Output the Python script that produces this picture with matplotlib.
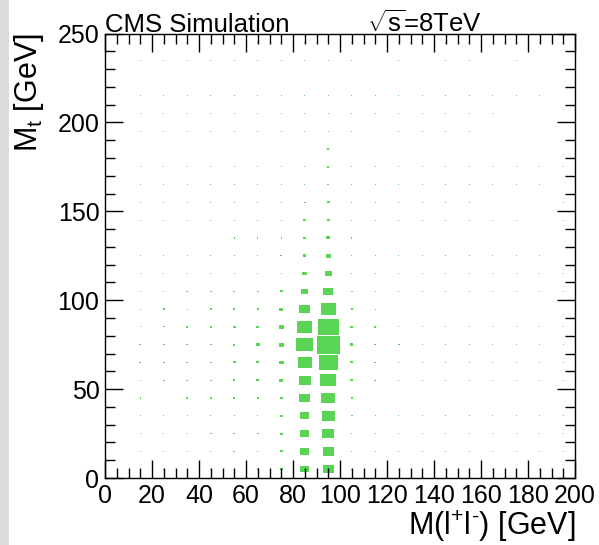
import numpy as np
import matplotlib
matplotlib.use("Agg")
import matplotlib.pyplot as plt
from matplotlib.patches import Rectangle
from matplotlib.collections import PatchCollection
from matplotlib.ticker import MultipleLocator

plt.rcParams['font.family'] = ['Liberation Sans', 'DejaVu Sans']
plt.rcParams['mathtext.fontset'] = 'custom'
plt.rcParams['mathtext.rm'] = 'Liberation Sans'
plt.rcParams['mathtext.it'] = 'Liberation Sans:italic'
plt.rcParams['mathtext.default'] = 'regular'

# bin centres (GeV)
mll_centers = [5, 15, 25, 35, 45, 55, 65, 75, 85, 95, 105, 115, 125, 135, 145, 155, 165, 175, 185, 195]
mt_centers = [5, 15, 25, 35, 45, 55, 65, 75, 85, 95, 105, 115, 125, 135, 145, 155, 165, 175, 185, 195,
              205, 215, 225, 235, 245]

# bin contents (arbitrary units), one row per M_t bin, from bottom (5) to top (245)
counts = [
    [0, 2, 2, 2, 2, 3, 5, 12, 144, 221, 3, 2, 2, 2, 2, 2, 2, 2, 2, 2],
    [0, 2, 2, 2, 2, 5, 3, 12, 144, 221, 3, 2, 2, 2, 2, 2, 2, 2, 2, 2],
    [0, 2, 3, 4, 6, 6, 6, 12, 144, 260, 3, 2, 2, 2, 2, 2, 2, 2, 2, 2],
    [0, 2, 2, 2, 2, 3, 3, 15, 144, 302, 5, 2, 2, 2, 2, 2, 2, 2, 2, 2],
    [0, 4, 2, 5, 6, 8, 8, 12, 221, 360, 9, 2, 2, 2, 2, 2, 2, 2, 2, 2],
    [0, 4, 5, 5, 6, 8, 12, 25, 260, 462, 12, 6, 2, 2, 2, 2, 2, 2, 2, 2],
    [0, 5, 5, 5, 8, 12, 14, 40, 360, 656, 12, 6, 4, 2, 3, 2, 2, 2, 2, 2],
    [0, 8, 5, 5, 8, 10, 25, 44, 504, 1000, 20, 8, 5, 3, 2, 2, 2, 2, 2, 2],
    [0, 4, 5, 8, 8, 12, 17, 40, 410, 774, 12, 8, 3, 2, 2, 2, 2, 2, 2, 2],
    [0, 3, 5, 4, 6, 6, 8, 29, 221, 410, 8, 3, 2, 2, 2, 2, 2, 2, 0, 2],
    [0, 3, 3, 5, 6, 6, 7, 14, 78, 168, 6, 4, 2, 2, 2, 2, 2, 2, 2, 2],
    [0, 2, 2, 2, 2, 2, 2, 4, 44, 90, 3, 2, 2, 2, 2, 2, 2, 2, 2, 2],
    [0, 2, 3, 2, 4, 4, 4, 6, 20, 44, 3, 2, 2, 2, 2, 2, 2, 2, 2, 0],
    [0, 2, 2, 2, 2, 4, 4, 4, 15, 29, 4, 2, 2, 2, 2, 2, 2, 2, 2, 2],
    [0, 2, 2, 2, 2, 2, 3, 3, 12, 17, 2, 2, 2, 2, 2, 2, 2, 2, 0, 2],
    [0, 2, 2, 2, 2, 2, 2, 3, 10, 12, 2, 2, 2, 2, 2, 2, 0, 0, 0, 2],
    [0, 2, 2, 2, 2, 2, 2, 2, 2, 6, 2, 2, 2, 2, 2, 2, 2, 2, 2, 0],
    [0, 2, 2, 2, 2, 2, 2, 2, 2, 6, 2, 2, 2, 2, 2, 2, 2, 2, 2, 2],
    [0, 2, 2, 2, 2, 2, 2, 2, 2, 5, 2, 2, 2, 2, 2, 0, 2, 2, 0, 2],
    [0, 2, 2, 2, 2, 2, 2, 2, 2, 3, 2, 0, 2, 2, 2, 2, 0, 0, 0, 0],
    [0, 2, 2, 2, 2, 2, 2, 2, 2, 2, 2, 2, 2, 2, 2, 2, 2, 0, 0, 0],
    [0, 2, 2, 2, 2, 2, 2, 2, 2, 2, 2, 2, 2, 2, 2, 2, 2, 2, 2, 0],
    [0, 2, 2, 2, 2, 2, 2, 2, 2, 2, 2, 2, 2, 0, 0, 2, 0, 2, 0, 0],
    [0, 2, 2, 2, 2, 2, 2, 2, 2, 2, 2, 0, 2, 0, 2, 2, 0, 2, 0, 0],
    [0, 2, 2, 2, 2, 2, 2, 2, 2, 2, 2, 0, 2, 2, 2, 0, 0, 0, 2, 0],
]

xlabel = r'M(l$^{+}$l$^{\text{-}}$) [GeV]'
ylabel = 'M$_{t}$ [GeV]'

fig = plt.figure(figsize=(5.99, 5.45), dpi=100)
# grey strip on the left edge of the screenshot
fig.add_artist(Rectangle((0, 0), 9 / 599, 1, transform=fig.transFigure,
                         facecolor='#dcdcdc', edgecolor='none'))

ax = fig.add_axes([105 / 599, 1 - 478 / 545, 470 / 599, 444.5 / 545])

# ROOT style "box" drawing: box area proportional to bin content
counts = np.array(counts, dtype=float)
cmax = counts.max()
bw, bh = 10.0, 10.0
boxes = []
for i, y in enumerate(mt_centers):
    for j, x in enumerate(mll_centers):
        c = counts[i, j]
        if c <= 0:
            continue
        f = np.sqrt(c / cmax)
        w, h = f * bw, f * bh
        boxes.append(Rectangle((x - w / 2, y - h / 2), w, h))
ax.add_collection(PatchCollection(boxes, facecolor='#59d454', edgecolor='none'))

ax.set_xlim(0, 200)
ax.set_ylim(0, 250)
ax.xaxis.set_major_locator(MultipleLocator(20))
ax.xaxis.set_minor_locator(MultipleLocator(5))
ax.yaxis.set_major_locator(MultipleLocator(50))
ax.yaxis.set_minor_locator(MultipleLocator(10))
ax.tick_params(which='both', direction='in', top=True, right=True, width=1, color='black')
ax.tick_params(which='major', length=13, labelsize=18)
ax.tick_params(which='minor', length=7)
ax.tick_params(axis='x', pad=4)
ax.tick_params(axis='y', pad=4)
for s in ax.spines.values():
    s.set_linewidth(1)

ax.set_xlabel(xlabel, fontsize=22, loc='right', va='baseline')
ax.xaxis.set_label_coords(1.0, (478 - 535) / 444.5)
ax.set_ylabel(ylabel, fontsize=22, loc='top')
ax.yaxis.set_label_coords((46 - 105) / 470, 1.0)

ax.text(0.0, 1.003, 'CMS Simulation', transform=ax.transAxes, fontsize=18.5,
        ha='left', va='baseline')
ax.text(0.557, 1.003, r'$\sqrt{s}$=8TeV', transform=ax.transAxes, fontsize=18.5,
        ha='left', va='baseline')

fig.savefig('out.png', dpi=100)
